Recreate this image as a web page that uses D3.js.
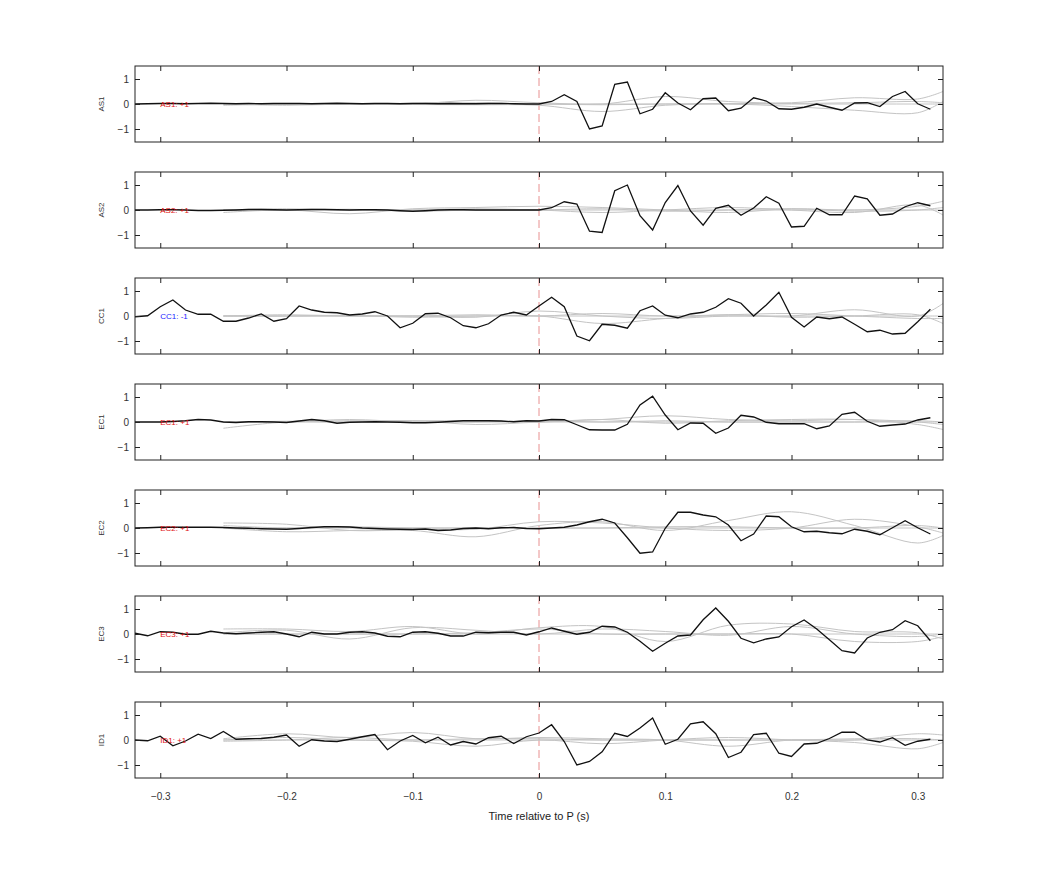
<!DOCTYPE html>
<html><head><meta charset="utf-8">
<script src="https://cdn.jsdelivr.net/npm/d3@7"></script>
<style>body{margin:0;background:#fff}</style></head>
<body><svg id="c" width="1042" height="875"></svg>
<script>
const channels = ["AS1","AS2","CC1","EC1","EC2","EC3","ID1"];
const polarity = ["+1","+1","-1","+1","+1","+1","+1"];
const xTicks = [-0.3,-0.2,-0.1,0,0.1,0.2,0.3];
const yTicks = [-1,0,1];
// black traces sampled at -0.32 .. 0.31 every 0.01
const tStart = -0.32, tStep = 0.01;
const trAS1 = [0,0.01,0.02,0.02,0.01,0.02,0.03,0.02,0.01,0.02,0.01,0.02,0.02,0.02,0.01,0.02,0.03,0.02,0.01,0.02,0.02,0.01,0.02,0.02,0.01,0.02,0.01,0.01,0.02,0.02,0.01,0.0,0.0,
 0.1,0.37,0.1,-1.0,-0.88,0.79,0.88,-0.39,-0.21,0.45,0.04,-0.23,0.21,0.24,-0.27,-0.17,0.25,0.12,-0.19,-0.21,-0.13,0,-0.13,-0.25,0.04,0.05,-0.1,0.3,0.5,0.01,-0.21];
const trAS2 = [0,0,0.01,0.01,0,-0.02,-0.02,-0.01,0,0.02,0.02,0.01,0,0.01,0.02,0.02,0.01,0,0.01,0.01,0,-0.03,-0.05,-0.03,0,0.01,0.01,0,0,0,0,0,0,
 0.09,0.33,0.24,-0.85,-0.9,0.77,1.0,-0.23,-0.8,0.3,0.98,-0.04,-0.61,0.07,0.19,-0.21,0.08,0.53,0.27,-0.68,-0.65,0.07,-0.19,-0.19,0.56,0.45,-0.21,-0.16,0.13,0.29,0.17];
const trCC1 = [-0.03,0.01,0.37,0.64,0.24,0.07,0.07,-0.21,-0.21,-0.08,0.08,-0.21,-0.11,0.4,0.24,0.15,0.13,0.04,0.08,0.17,0,-0.47,-0.29,0.09,0.11,-0.07,-0.39,-0.47,-0.31,0.04,0.15,0.04,0.4,
 0.75,0.37,-0.8,-0.99,-0.33,-0.37,-0.49,0.21,0.4,0.03,-0.07,0.08,0.15,0.35,0.69,0.51,0,0.44,0.95,-0.05,-0.44,-0.04,-0.11,-0.04,-0.33,-0.63,-0.57,-0.72,-0.69,-0.23,0.27];
const trEC1 = [0,0,0,0.02,0.05,0.1,0.08,0,-0.02,0.01,0.01,0,-0.02,0.04,0.1,0.05,-0.05,-0.01,0,0.01,0,-0.01,-0.03,-0.03,-0.01,0.02,0.05,0.05,0.05,0.04,0.01,0.05,0.04,
 0.1,0.09,-0.11,-0.31,-0.32,-0.32,-0.09,0.68,1.03,0.28,-0.31,-0.04,-0.05,-0.45,-0.24,0.27,0.2,-0.01,-0.07,-0.07,-0.07,-0.27,-0.16,0.31,0.39,0.03,-0.17,-0.12,-0.08,0.08,0.17];
const trEC2 = [0,0.01,0.03,0.03,0.03,0.03,0.03,0.02,0,-0.01,-0.03,-0.04,-0.05,-0.02,0.02,0.05,0.05,0.04,0,-0.02,-0.04,-0.05,-0.06,-0.04,-0.1,-0.08,-0.02,0,-0.03,0.01,0.02,-0.02,-0.03,
 0,0.03,0.12,0.25,0.35,0.2,-0.39,-1.01,-0.96,-0.01,0.63,0.63,0.52,0.45,0.12,-0.51,-0.24,0.48,0.45,0.05,-0.15,-0.13,-0.19,-0.23,-0.05,-0.13,-0.27,0.01,0.29,0.01,-0.24];
const trEC3 = [0.03,-0.07,0.09,0.07,-0.01,-0.01,0.11,0.04,0.01,0.04,0.07,0.09,0,-0.11,0.07,0,0,0.07,0.09,0.04,-0.09,-0.11,0.07,0.09,0.03,-0.08,-0.08,0.07,0.05,0.07,0.07,-0.04,0.09,
 0.24,0.11,-0.01,0.07,0.31,0.28,0.07,-0.29,-0.69,-0.37,-0.08,-0.04,0.57,1.04,0.51,-0.17,-0.35,-0.2,-0.12,0.29,0.56,0.2,-0.23,-0.67,-0.76,-0.16,0.07,0.17,0.53,0.33,-0.27];
const trID1 = [0,-0.03,0.15,-0.23,-0.04,0.23,0.06,0.34,0.03,0.05,0.06,0.11,0.2,-0.25,0.01,-0.04,-0.06,0.03,0.13,0.22,-0.39,-0.04,0.18,-0.11,0.11,-0.2,-0.06,-0.16,0.09,0.15,-0.14,0.13,0.28,
 0.61,-0.06,-1.0,-0.86,-0.47,0.27,0.14,0.48,0.88,-0.17,0.03,0.65,0.73,0.25,-0.7,-0.49,0.22,0.27,-0.53,-0.66,-0.16,-0.13,0.06,0.31,0.31,0,-0.08,0.09,-0.21,-0.05,0.03];
const traces = [trAS1,trAS2,trCC1,trEC1,trEC2,trEC3,trID1];
// gray (smooth) traces sampled at these times
const gTimes = [-0.25,-0.2,-0.15,-0.1,-0.05,0,0.05,0.1,0.15,0.2,0.25,0.3,0.32];
const grayAS1 = [[0,0,0,0,0.15,0.05,0,0.3,0.1,0.05,0.25,0.2,0.5],[0,-0.05,0,-0.02,-0.03,-0.05,-0.3,-0.05,0,-0.1,-0.25,-0.35,0.1],[-0.05,0,0,0.03,0.05,0,-0.03,0,0.02,0.02,0.05,0.1,0.05],[0,0,0,0,0,0,0,0,0,0,0,0,0]];
const grayAS2 = [[-0.1,0,-0.15,0.05,0.1,0.15,0.1,0,-0.1,0.05,0,0.15,0.35],[0,0.05,0,0,0.05,0,-0.1,0,0.1,0,-0.1,0.2,-0.2],[0,0,0.03,-0.05,0,0,0.05,-0.05,0,0.05,-0.05,0,0.1],[0,0,0,0,0,0,0,0,0,0,0,0,0]];
const grayCC1 = [[0,0,0,0,-0.05,0.2,0,-0.1,0,0,0.25,0,0.5],[0,0,0.03,-0.05,0,0,-0.3,-0.1,0.05,-0.05,0,0.05,-0.3],[0,0.05,0,0,0.05,0,0.1,0,0.05,0.1,0,-0.1,-0.1],[0,0,0,0,0,0,0,0,0,0,0,0,0]];
const grayEC1 = [[-0.25,0,0,0.05,-0.1,0,0.1,0.25,0.1,0.05,0.1,0,-0.1],[0,0.03,0.05,0.05,0.05,0,0.1,-0.05,0.05,0.1,0.1,-0.1,-0.3],[0,0,0.1,0,0,0.05,0,0.05,0,0,0,0.05,0],[0,0,0,0,0,0,0,0,0,0,0,0,0]];
const grayEC2 = [[0.2,0.15,-0.1,-0.1,-0.35,0.1,0.25,-0.1,0.3,0.65,0.1,-0.6,-0.3],[0,-0.15,-0.1,-0.05,-0.05,0.25,0.2,0,-0.1,0,0.35,0.05,-0.2],[0.1,0,0.05,0,0,0,0,0.05,0.05,0,0,0.1,0],[0,0,0,0,0,0,0,0,0,0,0,0,0]];
const grayEC3 = [[0.2,0.2,0.1,0.3,0,0.25,0.3,-0.3,0.35,0.4,0.1,0.05,-0.2],[0.05,0.15,-0.2,0.25,0.15,0,0.2,0.1,-0.05,0.3,0,-0.1,0],[0,0,0,0,0.05,0.2,0,0,0,0,-0.3,-0.3,-0.1],[0,0,0,0,0,0,0,0,0,0,0,0,0]];
const grayID1 = [[0.05,0.25,0.1,0.3,0.05,0.1,0.05,0,-0.25,0,0,0.25,0.2],[0,0.1,0,-0.05,-0.25,0,-0.15,0,0.1,0,-0.1,-0.35,-0.1],[-0.05,0,0.1,0,0.05,0.05,0,0,0,0,0.05,0.05,0],[0,0,0,0,0,0,0,0,0,0,0,0,0]];
const grays = [grayAS1,grayAS2,grayCC1,grayEC1,grayEC2,grayEC3,grayID1];

const svg = d3.select("#c");
const L=135, R=943, H=76, top0=66, pitch=106;
const x = d3.scaleLinear().domain([-0.32,0.32]).range([L,R]);
const font = "Helvetica, Arial, 'Liberation Sans', sans-serif";
channels.forEach((ch,i)=>{
  const t = top0 + i*pitch;
  const y = d3.scaleLinear().domain([-1.52,1.52]).range([t+H,t]);
  const g = svg.append("g");
  const clipId="clip"+i;
  g.append("clipPath").attr("id",clipId).append("rect").attr("x",L).attr("y",t).attr("width",R-L).attr("height",H);
  const pg = g.append("g").attr("clip-path",`url(#${clipId})`);
  pg.append("line").attr("x1",x(0)).attr("x2",x(0)).attr("y1",t).attr("y2",t+H)
    .attr("stroke","#e89090").attr("stroke-dasharray","8,4").attr("stroke-width",1);
  const gl = d3.line().x((d,k)=>x(gTimes[k])).y(d=>y(d)).curve(d3.curveCatmullRom);
  grays[i].forEach(s=>pg.append("path").attr("d",gl(s)).attr("fill","none").attr("stroke","#c4c4c4").attr("stroke-width",1));
  const bl = d3.line().x((d,k)=>x(tStart+k*tStep)).y(d=>y(d));
  pg.append("path").attr("d",bl(traces[i])).attr("fill","none").attr("stroke","#111").attr("stroke-width",1.3);
  g.append("rect").attr("x",L).attr("y",t).attr("width",R-L).attr("height",H).attr("fill","none").attr("stroke","#222").attr("stroke-width",1);
  const ax = g.append("g").attr("transform",`translate(0,${t+H})`).call(d3.axisBottom(x).tickValues(xTicks).tickSizeInner(-5).tickSizeOuter(0).tickFormat(i===6?d3.format(""):""));
  const axT = g.append("g").attr("transform",`translate(0,${t})`).call(d3.axisTop(x).tickValues(xTicks).tickSizeInner(-5).tickSizeOuter(0).tickFormat(""));
  const ay = g.append("g").attr("transform",`translate(${L},0)`).call(d3.axisLeft(y).tickValues(yTicks).tickSizeInner(-5).tickSizeOuter(0).tickFormat(d3.format("d")).tickPadding(6));
  const ayR = g.append("g").attr("transform",`translate(${R},0)`).call(d3.axisRight(y).tickValues(yTicks).tickSizeInner(-5).tickSizeOuter(0).tickFormat(""));
  [ax,axT,ay,ayR].forEach(a=>{a.select(".domain").remove();a.selectAll("line").attr("stroke","#222");a.selectAll("text").attr("font-family",font).attr("font-size",10).attr("fill","#333");});
  ax.selectAll("text").attr("dy","1.9em");
  g.append("text").attr("transform",`translate(104,${y(0)}) rotate(-90)`).attr("text-anchor","middle")
    .attr("font-family",font).attr("font-size",8).attr("fill","#333").text(ch);
  g.append("text").attr("x",x(-0.3)).attr("y",y(0)+3).attr("font-family",font).attr("font-size",8)
    .attr("fill",polarity[i]==="-1"?"#1a1aff":"#e01010").text(`${ch}: ${polarity[i]}`);
});
svg.append("text").attr("x",x(0)).attr("y",820).attr("text-anchor","middle").attr("font-family",font).attr("font-size",11).attr("fill","#222").text("Time relative to P (s)");
</script></body></html>
